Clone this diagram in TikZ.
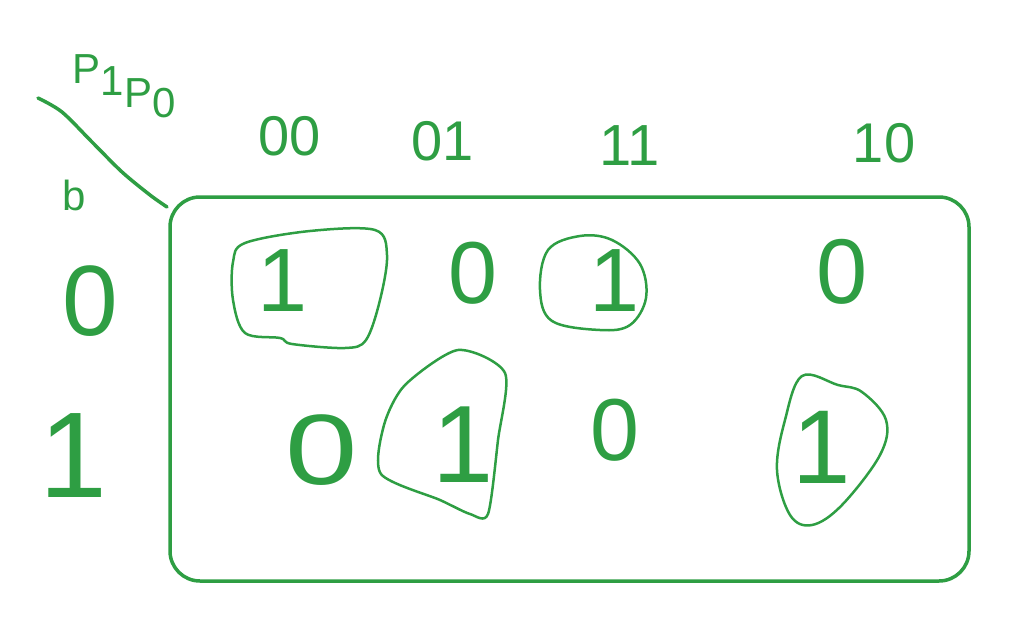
\documentclass[tikz,border=0pt]{standalone}
\usepackage{fontspec}
\setmainfont{Liberation Sans}
\definecolor{pen}{RGB}{46,158,67}
\tikzset{
  lbl/.style={text=pen, inner sep=0pt, font=\fontsize{#1}{#1}\selectfont},
  loopline/.style={draw=pen, line width=2.5pt, line cap=round, line join=round},
  frame/.style={draw=pen, line width=3.5pt, rounded corners=30pt}
}
\begin{document}
\begin{tikzpicture}[x=1pt,y=-1pt]
\useasboundingbox (0,0) rectangle (1030,626);
% map frame
\draw[frame] (170,197) rectangle (969,581);
% diagonal
\draw[loopline, line width=3.5pt] plot[smooth, tension=0.5] coordinates {(38,98) (62,112) (92,142) (122,172) (150,195) (167,207)};
% header labels
\node[lbl=42] (p) at (124,86) {P\raisebox{-12pt}{1}\raisebox{-24pt}{P}\raisebox{-34pt}{0}};
\node[lbl=42] (b) at (74,195) {b};
\node[lbl=56] (c00) at (290,136) {00};
\node[lbl=56] (c01) at (443,141) {01};
\node[lbl=58] (c11) at (630,146) {11};
\node[lbl=56] (c10) at (884,143) {10};
\node[lbl=100] (r0) at (90,301) {0};
\node[lbl=122] (r1) at (73,456) {1};
% cells, row 0
\node[lbl=90] (a1) at (283,281) {1};
\node[lbl=88] (a2) at (473,273) {0};
\node[lbl=90] (a3) at (615,281) {1};
\node[lbl=92] (a4) at (842,272) {0};
% cells, row 1
\node[lbl=100, xscale=1.3] (b1) at (322,450) {0};
\node[lbl=110] (b2) at (463,445) {1};
\node[lbl=88] (b3) at (615,430) {0};
\node[lbl=105] (b4) at (822,447) {1};
% loops round the ones
\draw[loopline] plot[smooth cycle, tension=0.55] coordinates {(245,243) (310,231) (375,230) (387,255) (380,300) (366,340) (345,348) (292,344) (280,338) (245,333) (233,300) (233,262)};
\draw[loopline] plot[smooth cycle, tension=0.6] coordinates {(548,250) (580,236) (612,240) (640,264) (646,298) (630,325) (600,330) (552,321) (540,290)};
\draw[loopline] plot[smooth cycle, tension=0.45] coordinates {(381,474) (384,425) (405,385) (458,350) (505,373) (498,440) (488,514) (470,514) (440,500)};
\draw[loopline] plot[smooth cycle, tension=0.6] coordinates {(802,376) (785,420) (777,470) (790,515) (812,525) (842,505) (880,455) (886,420) (862,392) (838,385)};
\end{tikzpicture}
\end{document}
